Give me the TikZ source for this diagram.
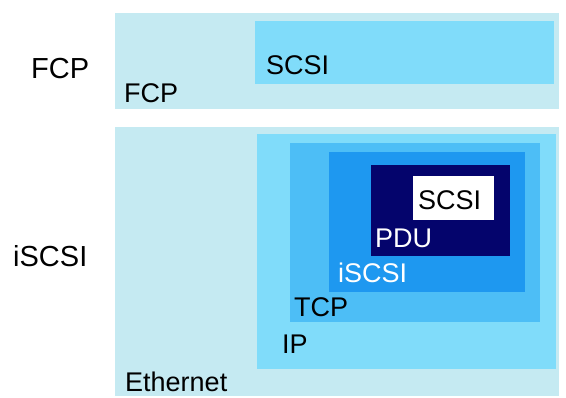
\documentclass[tikz,border=0pt]{standalone}
\usepackage{fontspec}
\setmainfont{Liberation Sans}
\definecolor{cEth}{RGB}{197,234,242}
\definecolor{cIP}{RGB}{128,220,250}
\definecolor{cTCP}{RGB}{77,190,246}
\definecolor{cISCSI}{RGB}{30,152,240}
\definecolor{cPDU}{RGB}{4,4,108}
\tikzset{
  lbl/.style={anchor=base west, inner sep=0pt, font=\fontsize{27}{29}\selectfont},
  biglbl/.style={anchor=base west, inner sep=0pt, font=\fontsize{29}{31}\selectfont},
}
\begin{document}
\begin{tikzpicture}[x=1pt,y=-1pt]
\useasboundingbox (0,0) rectangle (566,398);
% FCP stack
\fill[cEth] (115,13) rectangle (559,109);
\fill[cIP] (255,21) rectangle (554,84);
% iSCSI stack
\fill[cEth] (115,127) rectangle (559,396);
\fill[cIP] (257,134) rectangle (556,369);
\fill[cTCP] (290,143) rectangle (540,322);
\fill[cISCSI] (329,152) rectangle (525,292);
\fill[cPDU] (371,165) rectangle (510,256);
\fill[white] (413,176) rectangle (494,220);
% labels
\node[biglbl] (lfcp) at (31,79) {FCP};
\node[biglbl] (liscsi) at (13,267) {iSCSI};
\node[lbl] (fcp) at (124,103) {FCP};
\node[lbl] (scsia) at (266,75) {SCSI};
\node[lbl] (eth) at (125,392) {Ethernet};
\node[lbl] (ip) at (282,354) {IP};
\node[lbl] (tcp) at (294,317) {TCP};
\node[lbl, text=white] (iscsi) at (338,283) {iSCSI};
\node[lbl, text=white] (pdu) at (375,248) {PDU};
\node[lbl] (scsib) at (418,210) {SCSI};
\end{tikzpicture}
\end{document}
